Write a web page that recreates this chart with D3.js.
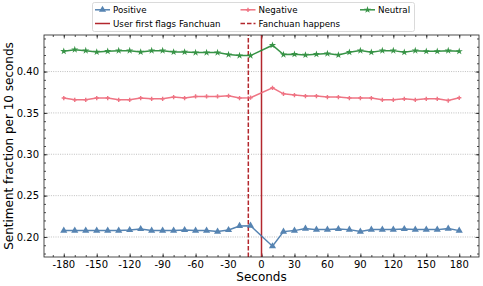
<!DOCTYPE html>
<html>
<head>
    <title>Sentiment fraction</title>
    <style type="text/css">
        body { margin: 0; background: #fff; }
        svg text { font-family: "DejaVu Sans", sans-serif; fill: #000; }
    </style>
</head>
<body>
<script src="https://cdn.jsdelivr.net/npm/d3@7/dist/d3.min.js"></script>
<script type="text/javascript">

    // seconds relative to the first flag (no bucket at 0)
    var seconds = [-180, -170, -160, -150, -140, -130, -120, -110, -100, -90, -80, -70, -60, -50, -40, -30, -20, -10,
                   10, 20, 30, 40, 50, 60, 70, 80, 90, 100, 110, 120, 130, 140, 150, 160, 170, 180];

    var positive = [0.2077, 0.2077, 0.2077, 0.2077, 0.2077, 0.2077, 0.2084, 0.2096, 0.2077, 0.2077, 0.2077, 0.2084,
                    0.2077, 0.2077, 0.2065, 0.2084, 0.2133, 0.2137,
                    0.1888, 0.2065, 0.2077, 0.2101, 0.2089, 0.2089, 0.2096, 0.2089, 0.2065, 0.2089, 0.2089, 0.2089,
                    0.2096, 0.2089, 0.2089, 0.2089, 0.2101, 0.2077];

    var negative = [0.3680, 0.3659, 0.3659, 0.3680, 0.3680, 0.3659, 0.3659, 0.3680, 0.3671, 0.3671, 0.3691, 0.3680,
                    0.3699, 0.3699, 0.3699, 0.3707, 0.3680, 0.3684,
                    0.3804, 0.3731, 0.3716, 0.3704, 0.3704, 0.3691, 0.3691, 0.3680, 0.3680, 0.3680, 0.3659, 0.3659,
                    0.3671, 0.3659, 0.3671, 0.3671, 0.3650, 0.3683];

    var neutral = [0.4246, 0.4265, 0.4253, 0.4237, 0.4246, 0.4253, 0.4253, 0.4237, 0.4253, 0.4253, 0.4237, 0.4237,
                   0.4229, 0.4229, 0.4229, 0.4205, 0.4193, 0.4193,
                   0.4318, 0.4205, 0.4210, 0.4201, 0.4209, 0.4217, 0.4201, 0.4233, 0.4253, 0.4233, 0.4253, 0.4253,
                   0.4233, 0.4253, 0.4245, 0.4245, 0.4253, 0.4245];

    var flagSecond = 0;
    var happensSecond = -12;

    var xTicks = [-180, -150, -120, -90, -60, -30, 0, 30, 60, 90, 120, 150, 180];
    var yTicks = [0.20, 0.25, 0.30, 0.35, 0.40];

    var W = 483, H = 286;
    var margin = {left: 44, right: 4, top: 35, bottom: 29};

    var svg = d3.select('body').append('svg')
        .attr('width', W)
        .attr('height', H);

    var x = d3.scaleLinear().domain([-198, 198]).range([margin.left, W - margin.right]);
    var y = d3.scaleLinear().domain([0.1758, 0.4442]).range([H - margin.bottom, margin.top]);

    var x0 = margin.left, x1 = W - margin.right, y0 = H - margin.bottom, y1 = margin.top;

    // grid
    svg.append('g').selectAll('line')
        .data(yTicks)
        .enter().append('line')
        .attr('x1', x0).attr('x2', x1)
        .attr('y1', function (d) { return y(d); })
        .attr('y2', function (d) { return y(d); })
        .attr('stroke', '#b0b0b0')
        .attr('stroke-width', 0.8)
        .attr('stroke-dasharray', '1,1.3');

    // inward ticks on all four sides
    var xMinor = d3.range(-190, 191, 10);
    var yMinor = d3.range(18, 45, 1).map(function (v) { return v / 100; });

    var gAx = svg.append('g');
    gAx.append('g').attr('transform', 'translate(0,' + y0 + ')')
        .call(d3.axisBottom(x).tickValues(xMinor).tickSize(-2).tickSizeOuter(0).tickFormat(''));
    gAx.append('g').attr('transform', 'translate(0,' + y0 + ')')
        .call(d3.axisBottom(x).tickValues(xTicks).tickSize(-3.5).tickSizeOuter(0).tickFormat(''));
    gAx.append('g').attr('transform', 'translate(0,' + y1 + ')')
        .call(d3.axisTop(x).tickValues(xMinor).tickSize(-2).tickSizeOuter(0).tickFormat(''));
    gAx.append('g').attr('transform', 'translate(0,' + y1 + ')')
        .call(d3.axisTop(x).tickValues(xTicks).tickSize(-3.5).tickSizeOuter(0).tickFormat(''));
    gAx.append('g').attr('transform', 'translate(' + x0 + ',0)')
        .call(d3.axisLeft(y).tickValues(yMinor).tickSize(-2).tickSizeOuter(0).tickFormat(''));
    gAx.append('g').attr('transform', 'translate(' + x0 + ',0)')
        .call(d3.axisLeft(y).tickValues(yTicks).tickSize(-3.5).tickSizeOuter(0).tickFormat(''));
    gAx.append('g').attr('transform', 'translate(' + x1 + ',0)')
        .call(d3.axisRight(y).tickValues(yMinor).tickSize(-2).tickSizeOuter(0).tickFormat(''));
    gAx.append('g').attr('transform', 'translate(' + x1 + ',0)')
        .call(d3.axisRight(y).tickValues(yTicks).tickSize(-3.5).tickSizeOuter(0).tickFormat(''));
    gAx.selectAll('.domain').remove();
    gAx.selectAll('line').attr('stroke', '#222').attr('stroke-width', 0.8);

    // tick labels
    svg.append('g').selectAll('text')
        .data(xTicks)
        .enter().append('text')
        .attr('x', function (d) { return x(d); })
        .attr('y', y0 + 10.5)
        .attr('text-anchor', 'middle')
        .attr('font-size', '10px')
        .text(function (d) { return d; });

    svg.append('g').selectAll('text')
        .data(yTicks)
        .enter().append('text')
        .attr('x', x0 - 5)
        .attr('y', function (d) { return y(d) + 3.6; })
        .attr('text-anchor', 'end')
        .attr('font-size', '10px')
        .text(function (d) { return d.toFixed(2); });

    // axis labels
    svg.append('text')
        .attr('x', (x0 + x1) / 2)
        .attr('y', H - 5)
        .attr('text-anchor', 'middle')
        .attr('font-size', '12px')
        .text('Seconds');

    svg.append('text')
        .attr('transform', 'translate(12.5,' + ((y0 + y1) / 2) + ') rotate(-90)')
        .attr('text-anchor', 'middle')
        .attr('font-size', '12px')
        .text('Sentiment fraction per 10 seconds');

    // event lines
    svg.append('line')
        .attr('x1', x(flagSecond)).attr('x2', x(flagSecond))
        .attr('y1', y0).attr('y2', y1)
        .attr('stroke', '#b3272d').attr('stroke-width', 1.5);
    svg.append('line')
        .attr('x1', x(happensSecond)).attr('x2', x(happensSecond))
        .attr('y1', y0).attr('y2', y1)
        .attr('stroke', '#b3272d').attr('stroke-width', 1.5)
        .attr('stroke-dasharray', '4.5,2');

    var series = [
        {name: 'Positive', values: positive, color: '#4477aa', symbol: d3.symbolTriangle, size: 22},
        {name: 'Negative', values: negative, color: '#ee6677', symbol: d3.symbolCross, size: 10},
        {name: 'Neutral', values: neutral, color: '#228833', symbol: d3.symbolStar, size: 16}
    ];

    var line = d3.line()
        .x(function (d) { return x(d[0]); })
        .y(function (d) { return y(d[1]); });

    series.forEach(function (s) {
        var pts = seconds.map(function (t, i) { return [t, s.values[i]]; });
        var g = svg.append('g').attr('opacity', 0.9);
        g.append('path')
            .attr('d', line(pts))
            .attr('fill', 'none')
            .attr('stroke', s.color)
            .attr('stroke-width', 1.5);
        g.selectAll('path.m')
            .data(pts)
            .enter().append('path')
            .attr('class', 'm')
            .attr('transform', function (d) { return 'translate(' + x(d[0]) + ',' + y(d[1]) + ')'; })
            .attr('d', d3.symbol().type(s.symbol).size(s.size))
            .attr('fill', s.color);
    });

    // frame
    svg.append('rect')
        .attr('x', x0).attr('y', y1)
        .attr('width', x1 - x0).attr('height', y0 - y1)
        .attr('fill', 'none')
        .attr('stroke', '#222')
        .attr('stroke-width', 0.8);

    // legend
    var leg = svg.append('g');
    leg.append('rect')
        .attr('x', 92.5).attr('y', 2.5)
        .attr('width', 322).attr('height', 29)
        .attr('rx', 2)
        .attr('fill', '#fff').attr('fill-opacity', 0.8)
        .attr('stroke', '#d0d0d0').attr('stroke-width', 0.8);

    var legItems = [
        {label: 'Positive', color: '#4477aa', symbol: d3.symbolTriangle, size: 22, col: 0, row: 0},
        {label: 'Negative', color: '#ee6677', symbol: d3.symbolCross, size: 10, col: 1, row: 0},
        {label: 'Neutral', color: '#228833', symbol: d3.symbolStar, size: 16, col: 2, row: 0},
        {label: 'User first flags Fanchuan', color: '#b3272d', col: 0, row: 1},
        {label: 'Fanchuan happens', color: '#b3272d', dash: '4.5,2', col: 1, row: 1}
    ];
    var colX = [95, 240.5, 360];
    var rowY = [9.8, 23.5];

    legItems.forEach(function (it) {
        var lx = colX[it.col], ly = rowY[it.row];
        var gi = leg.append('g');
        gi.append('line')
            .attr('x1', lx).attr('x2', lx + 15)
            .attr('y1', ly).attr('y2', ly)
            .attr('stroke', it.color).attr('stroke-width', 1.5)
            .attr('stroke-dasharray', it.dash || null);
        if (it.symbol) {
            gi.attr('opacity', 0.9);
            gi.append('path')
                .attr('transform', 'translate(' + (lx + 7.5) + ',' + ly + ')')
                .attr('d', d3.symbol().type(it.symbol).size(it.size))
                .attr('fill', it.color);
        }
        leg.append('text')
            .attr('x', lx + 18)
            .attr('y', ly + 3.2)
            .attr('font-size', '8.7px')
            .text(it.label);
    });

</script>
</body>
</html>
